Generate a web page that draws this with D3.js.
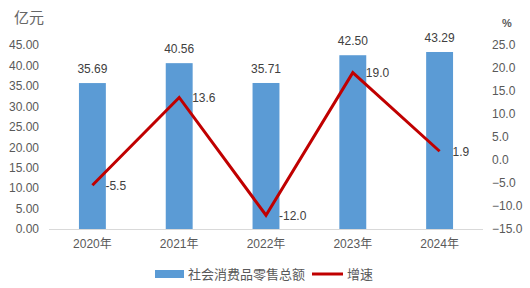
<!DOCTYPE html>
<html>
<head>
<meta charset="utf-8">
<script src="https://cdn.jsdelivr.net/npm/d3@7"></script>
<style>
  body { margin: 0; background: #fff; }
  svg text { font-family: "Liberation Sans", "Noto Sans CJK SC", sans-serif; fill: #595959; }
</style>
</head>
<body>
<div id="chart"></div>
<script>
var years = ["2020年", "2021年", "2022年", "2023年", "2024年"];
var sales = [35.69, 40.56, 35.71, 42.50, 43.29];
var growth = [-5.5, 13.6, -12.0, 19.0, 1.9];
var leftTicks = [0, 5, 10, 15, 20, 25, 30, 35, 40, 45];
var rightTicks = [-15, -10, -5, 0, 5, 10, 15, 20, 25];

var W = 530, H = 288;
var svg = d3.select("#chart").append("svg").attr("width", W).attr("height", H);

var x = d3.scaleBand().domain(years).range([49, 483]).paddingInner(0.69).paddingOuter(0.345);
var yL = d3.scaleLinear().domain([0, 45]).range([229, 45]);
var yR = d3.scaleLinear().domain([-15, 25]).range([229, 45]);

// bars
svg.selectAll("rect.bar").data(sales).enter().append("rect")
    .attr("class", "bar")
    .attr("x", function(d, i) { return x(years[i]); })
    .attr("width", x.bandwidth())
    .attr("y", function(d) { return yL(d); })
    .attr("height", function(d) { return yL(0) - yL(d); })
    .attr("fill", "#5B9BD5");

svg.selectAll("text.barlbl").data(sales).enter().append("text")
    .attr("x", function(d, i) { return x(years[i]) + x.bandwidth() / 2; })
    .attr("y", function(d) { return yL(d) - 10; })
    .attr("text-anchor", "middle")
    .style("font-size", "12px")
    .style("fill", "#404040")
    .text(function(d) { return d.toFixed(2); });

// axis line
svg.append("line").attr("x1", 49).attr("x2", 483).attr("y1", 229.5).attr("y2", 229.5)
    .attr("stroke", "#d9d9d9").attr("stroke-width", 1);

// left axis
var axL = svg.append("g").attr("transform", "translate(39,0)")
    .call(d3.axisLeft(yL).tickValues(leftTicks).tickSize(0).tickPadding(0).tickFormat(d3.format(".2f")));
axL.select(".domain").remove();
axL.selectAll("text").style("font-size", "12px").style("fill", "#595959");

// right axis
var axR = svg.append("g").attr("transform", "translate(492,0)")
    .call(d3.axisRight(yR).tickValues(rightTicks).tickSize(0).tickPadding(0).tickFormat(d3.format(".1f")));
axR.select(".domain").remove();
axR.selectAll("text").style("font-size", "12px").style("fill", "#595959");

// x labels
svg.selectAll("text.xlbl").data(years).enter().append("text")
    .attr("x", function(d) { return x(d) + x.bandwidth() / 2; })
    .attr("y", 248)
    .attr("text-anchor", "middle")
    .style("font-size", "12px")
    .text(function(d) { return d; });

// unit labels
svg.append("text").attr("x", 14).attr("y", 23).style("font-size", "15px").style("fill", "#666").text("亿元");
svg.append("text").attr("x", 502).attr("y", 27).style("font-size", "11px").style("font-weight", "bold").text("%");

// line
var line = d3.line()
    .x(function(d, i) { return x(years[i]) + x.bandwidth() / 2; })
    .y(function(d) { return yR(d); });
svg.append("path").datum(growth)
    .attr("d", line)
    .attr("fill", "none")
    .attr("stroke", "#C00000")
    .attr("stroke-width", 3);

svg.selectAll("text.linelbl").data(growth).enter().append("text")
    .attr("x", function(d, i) { return x(years[i]) + x.bandwidth() / 2 + 13; })
    .attr("y", function(d) { return yR(d) + 4.5; })
    .style("font-size", "12px")
    .style("fill", "#404040")
    .text(function(d) { return d.toFixed(1); });

// legend
svg.append("rect").attr("x", 155).attr("y", 270).attr("width", 29).attr("height", 8).attr("fill", "#5B9BD5");
svg.append("text").attr("x", 188).attr("y", 279).style("font-size", "13px").text("社会消费品零售总额");
svg.append("line").attr("x1", 312).attr("x2", 343).attr("y1", 274).attr("y2", 274)
    .attr("stroke", "#C00000").attr("stroke-width", 3);
svg.append("text").attr("x", 347).attr("y", 279).style("font-size", "13px").text("增速");
</script>
</body>
</html>
